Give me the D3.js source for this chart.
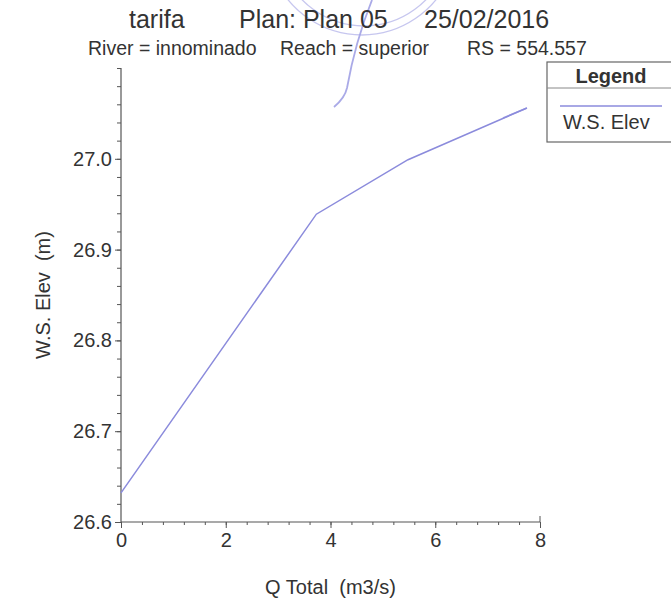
<!DOCTYPE html>
<html>
<head>
<meta charset="utf-8">
<script src="https://cdn.jsdelivr.net/npm/d3@7"></script>
<style>
  html, body { margin: 0; padding: 0; background: #fff; }
  svg { display: block; font-family: "Liberation Sans", Arial, sans-serif; }
</style>
</head>
<body>
<svg id="chart" width="671" height="607"></svg>
<script>
// ---- data ----
const qTotal = [0, 3.73, 5.48, 7.75];
const wsElev = [26.632, 26.939, 26.999, 27.056];
const xTicks = [0, 2, 4, 6, 8];
const yTicks = [26.6, 26.7, 26.8, 26.9, 27.0];
const titleParts = ["tarifa", "Plan: Plan 05", "25/02/2016"];
const subtitleParts = ["River = innominado", "Reach = superior", "RS = 554.557"];
const seriesName = "W.S. Elev";

const svg = d3.select("#chart");
const x = d3.scaleLinear().domain([0, 8]).range([121, 540]);
const y = d3.scaleLinear().domain([26.6, 27.1]).range([522, 68]);

const txt = "#333";
const axc = "#555";
const lineColor = "#8b8bdc";

// decorative stamp (scanned seal)
const stampC = "#b4b4ea";
const stamp = svg.append("g").attr("fill", "none").attr("stroke", stampC).attr("stroke-width", 1.3).attr("opacity", 0.75);
stamp.append("path").attr("d", d3.arc()({innerRadius: 0, outerRadius: 95, startAngle: Math.PI*0.62, endAngle: Math.PI*1.38})).attr("transform", "translate(362,-60)");
stamp.append("path").attr("d", d3.arc()({innerRadius: 0, outerRadius: 86, startAngle: Math.PI*0.6, endAngle: Math.PI*1.4})).attr("transform", "translate(364,-60)");
stamp.append("path").attr("d", "M372,0 C360,30 352,60 347,88 C345,97 340,102 334,107").attr("stroke", "#8e8ee0").attr("stroke-width", 1.8).attr("opacity", 1);
stamp.append("path").attr("d", "M527,108 L503,118").attr("stroke", "#8e8ee0").attr("stroke-width", 1.5);

// title
const titleX = [129, 239, 424];
svg.selectAll("text.title").data(titleParts).enter().append("text")
  .attr("class", "title").attr("x", (d, i) => titleX[i]).attr("y", 28)
  .attr("font-size", 25).attr("fill", txt).text(d => d);

const subX = [88, 280, 467];
svg.selectAll("text.sub").data(subtitleParts).enter().append("text")
  .attr("class", "sub").attr("x", (d, i) => subX[i]).attr("y", 55)
  .attr("font-size", 19.5).attr("fill", txt).text(d => d);

// axes
const xAxis = d3.axisBottom(x).tickValues(xTicks).tickSize(6).tickPadding(5).tickFormat(d3.format("d"));
const xMinor = d3.axisBottom(x).tickValues(d3.range(0, 8.0001, 0.4)).tickSize(3).tickFormat("");
const yAxis = d3.axisLeft(y).tickValues(yTicks).tickSize(6).tickPadding(3).tickFormat(d3.format(".1f"));
const yMinor = d3.axisLeft(y).tickValues(d3.range(26.6, 27.1001, 0.02)).tickSize(4).tickFormat("");

function style(g, fs) {
  g.selectAll("path").attr("stroke", axc).attr("stroke-width", 1.2);
  g.selectAll("line").attr("stroke", axc);
  g.selectAll("text").attr("fill", txt).attr("font-size", fs).attr("font-family", "Liberation Sans, Arial, sans-serif");
}
svg.append("g").attr("transform", `translate(0,${y(26.6)})`).call(xMinor).call(g => style(g, 20)).call(g => g.select(".domain").attr("d", `M${x(0)},0H${x(8)}`));
svg.append("g").attr("transform", `translate(0,${y(26.6)})`).call(xAxis).call(g => style(g, 20)).call(g => g.select(".domain").remove());
svg.append("line").attr("x1", x(8)).attr("x2", x(8)).attr("y1", y(26.6) - 6).attr("y2", y(26.6)).attr("stroke", axc);
svg.append("g").attr("transform", `translate(${x(0)},0)`).call(yMinor).call(g => style(g, 20)).call(g => g.select(".domain").attr("d", `M0,${y(27.1)}V${y(26.6)}`));
svg.append("g").attr("transform", `translate(${x(0)},0)`).call(yAxis).call(g => style(g, 20)).call(g => g.select(".domain").remove());

// axis titles
svg.append("text").attr("x", (x(0) + x(8)) / 2).attr("y", 594).attr("text-anchor", "middle")
  .attr("font-size", 20).attr("fill", txt).attr("xml:space", "preserve").text("Q Total  (m3/s)");
svg.append("text").attr("transform", `translate(50,${(y(26.6) + y(27.1)) / 2}) rotate(-90)`)
  .attr("text-anchor", "middle").attr("font-size", 20).attr("fill", txt).attr("xml:space", "preserve").text("W.S. Elev  (m)");

// series
const pts = qTotal.map((q, i) => [q, wsElev[i]]);
svg.append("path").datum(pts)
  .attr("fill", "none").attr("stroke", lineColor).attr("stroke-width", 1.5)
  .attr("d", d3.line().x(d => x(d[0])).y(d => y(d[1])));

// legend
const lg = svg.append("g").attr("transform", "translate(547,62)");
lg.append("rect").attr("x", 0).attr("y", 0).attr("width", 130).attr("height", 80)
  .attr("fill", "#fff").attr("stroke", "#666").attr("stroke-width", 1.2);
lg.append("line").attr("x1", 0).attr("x2", 130).attr("y1", 26).attr("y2", 26).attr("stroke", "#888");
lg.append("text").attr("x", 64).attr("y", 21).attr("text-anchor", "middle").attr("font-weight", "bold")
  .attr("font-size", 20).attr("fill", txt).text("Legend");
lg.append("line").attr("x1", 13).attr("x2", 115).attr("y1", 44).attr("y2", 44).attr("stroke", lineColor).attr("stroke-width", 1.5);
lg.append("text").attr("x", 16).attr("y", 67).attr("font-size", 20).attr("fill", txt).text(seriesName);
</script>
</body>
</html>
